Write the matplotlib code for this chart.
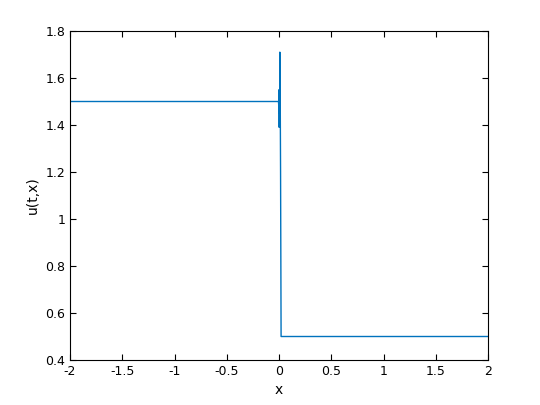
import matplotlib
matplotlib.use('Agg')
import matplotlib.pyplot as plt

# values
x = [-2.0, -0.005, -0.002, 0.0, 0.002, 0.004, 0.006, 0.008, 0.01, 0.012, 0.015, 0.02, 0.5, 2.0]
u = [1.5, 1.5, 1.48, 1.55, 1.39, 1.53, 1.45, 1.71, 1.5, 1.49, 1.2, 0.5, 0.5, 0.5]

fig = plt.figure(figsize=(5.4, 4.05), dpi=100)
ax = fig.add_axes([70/540, 45/405, 418/540, 329/405])
ax.plot(x, u, color='#0072BD', lw=1)
ax.set_xlim(-2, 2)
ax.set_ylim(0.4, 1.8)
ax.set_xticks([-2, -1.5, -1, -0.5, 0, 0.5, 1, 1.5, 2])
ax.set_xticklabels(['-2', '-1.5', '-1', '-0.5', '0', '0.5', '1', '1.5', '2'])
ax.set_yticks([0.4, 0.6, 0.8, 1, 1.2, 1.4, 1.6, 1.8])
ax.set_yticklabels(['0.4', '0.6', '0.8', '1', '1.2', '1.4', '1.6', '1.8'])
ax.tick_params(direction='in', top=True, right=True, labelsize=9, length=4)
ax.set_xlabel('x', fontsize=10)
ax.set_ylabel('u(t,x)', fontsize=10)
fig.savefig('out.png')
